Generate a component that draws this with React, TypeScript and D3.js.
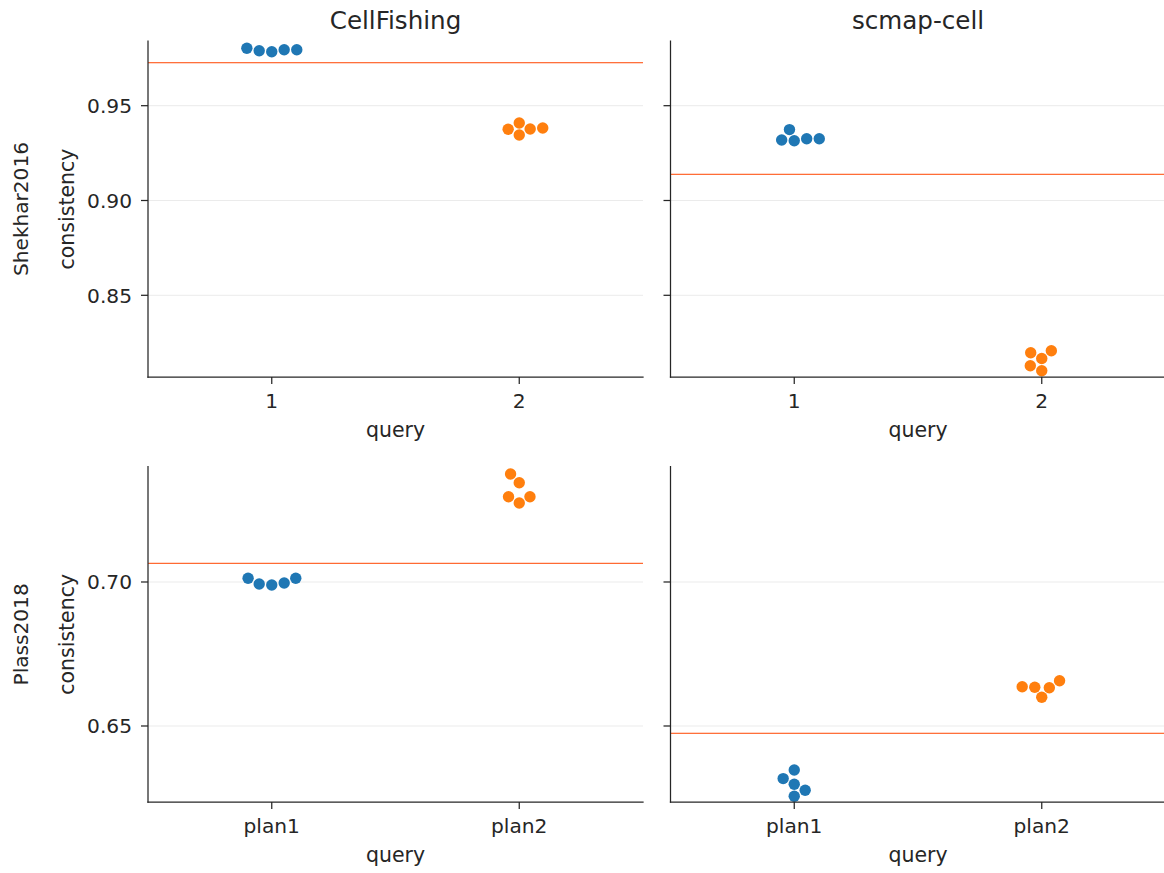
import React from "react";
import * as d3 from "d3";

// ---------------- data ----------------
const rowNames = ["Shekhar2016", "Plass2018"];
const colNames = ["CellFishing", "scmap-cell"];
const queriesShekhar = ["1", "2"];
const queriesPlass = ["plan1", "plan2"];

// consistency values, one array per (dataset, method, query)
const shekharCellFishingQ1 = [0.98027, 0.97901, 0.97848, 0.97954, 0.97954];
const shekharCellFishingQ2 = [0.93755, 0.94091, 0.93771, 0.93824, 0.93455];
const shekharScmapQ1 = [0.93191, 0.9374, 0.93154, 0.93259, 0.93259];
const shekharScmapQ2 = [0.81973, 0.81667, 0.82078, 0.81287, 0.81023];
const plassCellFishingQ1 = [0.70128, 0.69931, 0.69896, 0.69965, 0.70128];
const plassCellFishingQ2 = [0.7375, 0.73448, 0.72962, 0.72962, 0.72743];
const plassScmapQ1 = [0.63472, 0.63174, 0.62976, 0.62767, 0.62559];
const plassScmapQ2 = [0.66365, 0.66344, 0.6633, 0.66573, 0.65997];

// reference (horizontal line) per method
const baselineShekhar = [0.97265, 0.91382];
const baselinePlass = [0.70649, 0.64747];

const yDomainShekhar = [0.80691, 0.98412];
const yDomainPlass = [0.62361, 0.74003];
const yTicksShekhar = [0.85, 0.9, 0.95];
const yTicksPlass = [0.65, 0.7];

const queryColors = ["#1f77b4", "#ff7f0e"];
// side preferred by the swarm when two positions are equally far from centre
const swarmTieSide = [
  ["left", "left"],
  ["left", "right"],
];

// ---------------- layout ----------------
const W = 1164;
const H = 873;
const colX = [148, 670.5];
const axW = 495;
const rowY = [
  [41, 377],
  [466.7, 802],
];
const FONT = "DejaVu Sans";
const TXT = "#262626";
const R_COLL = 6;
const R_DRAW = 5.7;

type Pt = { x: number; y: number };

function beeswarm(ys: number[], mid: number, r: number, preferRight: boolean): Pt[] {
  const idx = d3.range(ys.length).sort((a, b) => ys[b] - ys[a]);
  const placed: Pt[] = [];
  const out: Pt[] = new Array(ys.length);
  for (const i of idx) {
    const y = ys[i];
    if (placed.length === 0) {
      const p = { x: mid, y };
      placed.push(p);
      out[i] = p;
      continue;
    }
    const neighbors: Pt[] = [];
    for (let k = placed.length - 1; k >= 0; k--) {
      if (placed[k].y - y < 2 * r) neighbors.push(placed[k]);
      else break;
    }
    const cands: number[] = [mid];
    let leftFirst = true;
    for (const n of neighbors) {
      const dy = y - n.y;
      const dx = Math.sqrt(Math.max(4 * r * r - dy * dy, 0)) * 1.05;
      const cl = n.x - dx;
      const cr = n.x + dx;
      if (leftFirst) cands.push(cl, cr);
      else cands.push(cr, cl);
      leftFirst = !leftFirst;
    }
    const sorted = cands
      .map((x, k) => ({ x, k }))
      .sort((a, b) => {
        const d = Math.abs(a.x - mid) - Math.abs(b.x - mid);
        if (Math.abs(d) > 1e-6) return d;
        if (preferRight) return b.x - a.x;
        return a.k - b.k;
      });
    let chosen = sorted[0].x;
    for (const c of sorted) {
      const ok = neighbors.every(
        (n) => (n.x - c.x) ** 2 + (n.y - y) ** 2 >= (2 * r) ** 2 - 1e-9
      );
      if (ok) {
        chosen = c.x;
        break;
      }
    }
    const p = { x: chosen, y };
    placed.push(p);
    out[i] = p;
  }
  return out;
}

type Panel = {
  row: number;
  col: number;
  queries: string[];
  values: number[][];
  baseline: number;
  domain: number[];
  ticks: number[];
};

const panels: Panel[] = [
  { row: 0, col: 0, queries: queriesShekhar, values: [shekharCellFishingQ1, shekharCellFishingQ2], baseline: baselineShekhar[0], domain: yDomainShekhar, ticks: yTicksShekhar },
  { row: 0, col: 1, queries: queriesShekhar, values: [shekharScmapQ1, shekharScmapQ2], baseline: baselineShekhar[1], domain: yDomainShekhar, ticks: yTicksShekhar },
  { row: 1, col: 0, queries: queriesPlass, values: [plassCellFishingQ1, plassCellFishingQ2], baseline: baselinePlass[0], domain: yDomainPlass, ticks: yTicksPlass },
  { row: 1, col: 1, queries: queriesPlass, values: [plassScmapQ1, plassScmapQ2], baseline: baselinePlass[1], domain: yDomainPlass, ticks: yTicksPlass },
];

function PanelView({ p }: { p: Panel }) {
  const x0 = colX[p.col];
  const x1 = x0 + axW;
  const [yTop, yBot] = rowY[p.row];
  const x = d3.scalePoint<string>().domain(p.queries).range([x0, x1]).padding(0.5);
  const y = d3.scaleLinear().domain(p.domain).range([yBot, yTop]);
  const preferRight = swarmTieSide[p.row][p.col] === "right";
  const swarms = p.values.map((vals, qi) =>
    beeswarm(vals.map((v) => y(v)), x(p.queries[qi]) as number, R_COLL, preferRight)
  );
  const cx = (x0 + x1) / 2;
  return (
    <g>
      {p.ticks.map((t) => (
        <line key={"g" + t} x1={x0} x2={x1} y1={y(t)} y2={y(t)} stroke="#ebebeb" strokeWidth={1} />
      ))}
      <line x1={x0} x2={x1} y1={y(p.baseline)} y2={y(p.baseline)} stroke="#ff4500" strokeWidth={1} />
      {swarms.map((pts, qi) =>
        pts.map((pt, k) => (
          <circle key={qi + "-" + k} cx={pt.x} cy={pt.y} r={R_DRAW} fill={queryColors[qi]} />
        ))
      )}
      {/* spines */}
      <line x1={x0} x2={x0} y1={yTop} y2={yBot} stroke={TXT} strokeWidth={1.25} strokeLinecap="square" />
      <line x1={x0} x2={x1} y1={yBot} y2={yBot} stroke={TXT} strokeWidth={1.25} strokeLinecap="square" />
      {/* y ticks */}
      {p.ticks.map((t) => (
        <g key={"t" + t}>
          <line x1={x0 - 7} x2={x0} y1={y(t)} y2={y(t)} stroke={TXT} strokeWidth={1.25} />
          {p.col === 0 && (
            <text x={x0 - 16} y={y(t)} dy="0.36em" textAnchor="end" fontFamily={FONT} fontSize={20.2} fill={TXT}>
              {d3.format(".2f")(t)}
            </text>
          )}
        </g>
      ))}
      {/* x ticks */}
      {p.queries.map((q) => (
        <g key={"x" + q}>
          <line x1={x(q)} x2={x(q)} y1={yBot} y2={yBot + 7} stroke={TXT} strokeWidth={1.25} />
          <text x={x(q)} y={yBot + 31} textAnchor="middle" fontFamily={FONT} fontSize={20.2} fill={TXT}>
            {q}
          </text>
        </g>
      ))}
      <text x={cx} y={yBot + 59.5} textAnchor="middle" fontFamily={FONT} fontSize={20.5} fill={TXT}>
        query
      </text>
      {p.row === 0 && (
        <text x={cx} y={yTop - 11.7} textAnchor="middle" fontFamily={FONT} fontSize={24.6} fill={TXT}>
          {colNames[p.col]}
        </text>
      )}
      {p.col === 0 && (
        <>
          <text
            transform={`translate(${73.5},${(yTop + yBot) / 2}) rotate(-90)`}
            textAnchor="middle"
            fontFamily={FONT}
            fontSize={20.5}
            fill={TXT}
          >
            consistency
          </text>
          <text
            transform={`translate(${27.5},${(yTop + yBot) / 2}) rotate(-90)`}
            textAnchor="middle"
            fontFamily={FONT}
            fontSize={20.1}
            fill={TXT}
          >
            {rowNames[p.row]}
          </text>
        </>
      )}
    </g>
  );
}

export default function App() {
  return (
    <svg
      width={W}
      height={H}
      viewBox={`0 0 ${W} ${H}`}
      style={{ position: "absolute", left: 0, top: 0, background: "#fff" }}
    >
      <rect width={W} height={H} fill="#fff" />
      {panels.map((p, i) => (
        <PanelView key={i} p={p} />
      ))}
    </svg>
  );
}
